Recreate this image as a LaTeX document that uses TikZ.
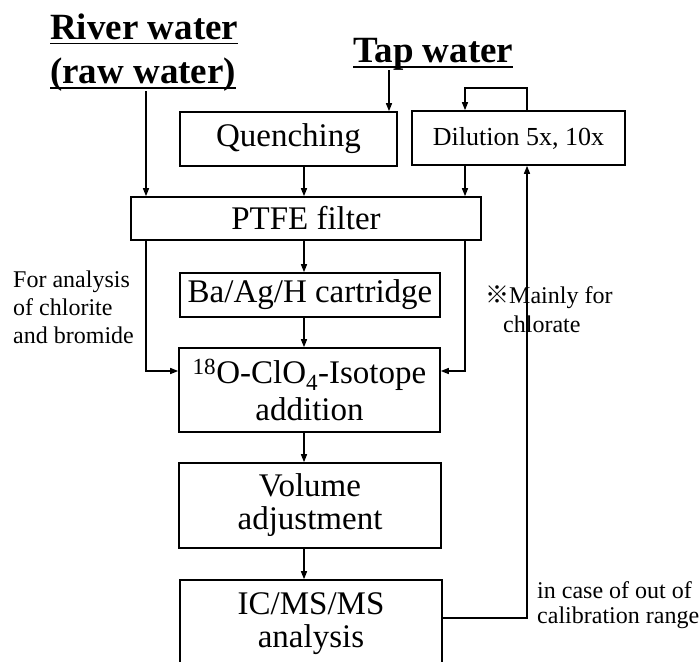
\documentclass[tikz,border=0pt]{standalone}
\usepackage{fontspec}
\setmainfont{Liberation Serif}
\newfontfamily\cjk{Noto Sans CJK JP}
\usetikzlibrary{arrows.meta}
\begin{document}
\begin{tikzpicture}[x=1pt,y=-1pt,
  box/.style={draw,line width=1.6pt,inner sep=0pt,align=center,font=\fontsize{33}{33}\selectfont},
  conn/.style={line width=1.3pt,-{Triangle[length=8pt,width=6pt]}},
  title/.style={font=\fontsize{37}{40}\selectfont\bfseries,inner sep=0pt,anchor=base west},
  ul/.style={line width=1.7pt},
  note/.style={font=\fontsize{24}{28}\selectfont,inner sep=0pt,anchor=base west}]
\useasboundingbox (0,0) rectangle (700,661);
\clip (0,0) rectangle (700,661);
\fill[white] (0,0) rectangle (700,661);

% titles
\node[title] (river) at (50,40) {River water};
\node[title] (raw) at (50,83) {(raw water)};
\node[title] (tap) at (353,62) {Tap water};
\draw[ul] ([yshift=-3.5pt]river.base west) -- ([yshift=-3.5pt]river.base east);
\draw[ul] ([yshift=-5pt]raw.base west) -- ([yshift=-5pt]raw.base east);
\draw[ul] ([yshift=-5pt]tap.base west) -- ([yshift=-5pt]tap.base east);

% boxes
\node[box,minimum width=217pt,minimum height=54pt] (quench) at (288.5,139) {Quenching};
\node[box,minimum width=213pt,minimum height=54pt,font=\fontsize{26}{28}\selectfont] (dilut) at (518.5,138) {Dilution 5x, 10x};
\node[box,minimum width=350pt,minimum height=43pt] (ptfe) at (306,218.5) {PTFE filter};
\node[box,minimum width=260pt,minimum height=44pt] (baag) at (310,295) {Ba/Ag/H cartridge};
\node[box,minimum width=261pt,minimum height=84pt,font=\fontsize{33}{37}\selectfont] (iso) at (309.5,390) {\textsuperscript{18}O-ClO\textsubscript{4}-Isotope\\addition};
\node[box,minimum width=262pt,minimum height=85pt] (vol) at (310,505.5) {Volume\\adjustment};
\node[box,minimum width=262pt,minimum height=88pt] (ic) at (311,624) {IC/MS/MS\\analysis};

% side notes
\node[note] (na) at (13,287) {For analysis};
\node[note] (nb) at (13,315) {of chlorite};
\node[note] (nc) at (13,343) {and bromide};
\node[note] (ma) at (485,303) {{\cjk ※}Mainly for};
\node[note] (mb) at (503,332) {chlorate};
\node[note] (ca) at (537,598) {in case of out of};
\node[note] (cb) at (537,623) {calibration range};

% helper coordinates
\coordinate (cx) at (304,0);
\coordinate (lx) at (146,0);
\coordinate (tx) at (389,0);
\coordinate (dl) at (465,0);
\coordinate (dr) at (527,0);
\coordinate (loopy) at (0,88);
\coordinate (ly) at (0,371);
\coordinate (ry) at (0,618);

% connectors
\draw[conn] (raw.south -| lx) -- (lx |- ptfe.north);
\draw[conn] (tap.south -| tx) -- (tx |- quench.north);
\draw[conn] (quench.south -| cx) -- (cx |- ptfe.north);
\draw[conn] (dilut.south -| dl) -- (dl |- ptfe.north);
\draw[conn] (dilut.north -| dr) -- (dr |- loopy) -- (dl |- loopy) -- (dilut.north -| dl);
\draw[conn] (ptfe.south -| cx) -- (cx |- baag.north);
\draw[conn] (baag.south -| cx) -- (cx |- iso.north);
\draw[conn] (iso.south -| cx) -- (cx |- vol.north);
\draw[conn] (vol.south -| cx) -- (cx |- ic.north);
\draw[conn] (ptfe.south -| lx) -- (lx |- ly) -- (iso.west |- ly);
\draw[conn] (ptfe.south -| dl) -- (dl |- ly) -- (iso.east |- ly);
\draw[conn] (ic.east |- ry) -- (dr |- ry) -- (dr |- dilut.south);
\end{tikzpicture}
\end{document}
